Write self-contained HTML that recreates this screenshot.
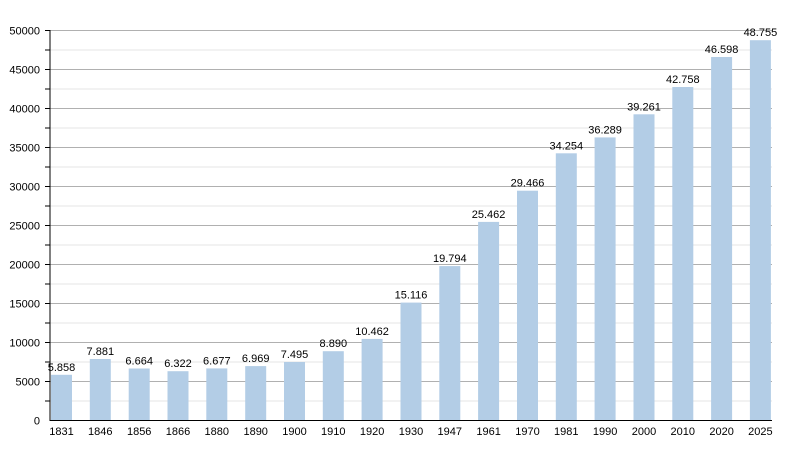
<!DOCTYPE html><html><head><style>body{margin:0;background:#fff}
.M{stroke:#b0b0b0}.m{stroke:#e4e4e4}.t{stroke:#000}
text{font-family:"Liberation Sans",sans-serif;font-size:11px;fill:#000}
.r{text-anchor:end}.c{text-anchor:middle}
rect{fill:#b3cde6}</style></head><body>
<svg width="800" height="450" xmlns="http://www.w3.org/2000/svg">
<g>
<line class="m" x1="50" x2="772" y1="401" y2="401"/>
<line class="M" x1="50" x2="772" y1="381.5" y2="381.5"/>
<line class="m" x1="50" x2="772" y1="362" y2="362"/>
<line class="M" x1="50" x2="772" y1="342.5" y2="342.5"/>
<line class="m" x1="50" x2="772" y1="323" y2="323"/>
<line class="M" x1="50" x2="772" y1="303.5" y2="303.5"/>
<line class="m" x1="50" x2="772" y1="284" y2="284"/>
<line class="M" x1="50" x2="772" y1="264.5" y2="264.5"/>
<line class="m" x1="50" x2="772" y1="245" y2="245"/>
<line class="M" x1="50" x2="772" y1="225.5" y2="225.5"/>
<line class="m" x1="50" x2="772" y1="206" y2="206"/>
<line class="M" x1="50" x2="772" y1="186.5" y2="186.5"/>
<line class="m" x1="50" x2="772" y1="167" y2="167"/>
<line class="M" x1="50" x2="772" y1="147.5" y2="147.5"/>
<line class="m" x1="50" x2="772" y1="128" y2="128"/>
<line class="M" x1="50" x2="772" y1="108.5" y2="108.5"/>
<line class="m" x1="50" x2="772" y1="89" y2="89"/>
<line class="M" x1="50" x2="772" y1="69.5" y2="69.5"/>
<line class="m" x1="50" x2="772" y1="50" y2="50"/>
<line class="M" x1="50" x2="772" y1="30.5" y2="30.5"/>
</g>
<g>
<line class="t" x1="45" x2="50" y1="401" y2="401"/>
<line class="t" x1="45" x2="50" y1="381.5" y2="381.5"/>
<line class="t" x1="45" x2="50" y1="362" y2="362"/>
<line class="t" x1="45" x2="50" y1="342.5" y2="342.5"/>
<line class="t" x1="45" x2="50" y1="323" y2="323"/>
<line class="t" x1="45" x2="50" y1="303.5" y2="303.5"/>
<line class="t" x1="45" x2="50" y1="284" y2="284"/>
<line class="t" x1="45" x2="50" y1="264.5" y2="264.5"/>
<line class="t" x1="45" x2="50" y1="245" y2="245"/>
<line class="t" x1="45" x2="50" y1="225.5" y2="225.5"/>
<line class="t" x1="45" x2="50" y1="206" y2="206"/>
<line class="t" x1="45" x2="50" y1="186.5" y2="186.5"/>
<line class="t" x1="45" x2="50" y1="167" y2="167"/>
<line class="t" x1="45" x2="50" y1="147.5" y2="147.5"/>
<line class="t" x1="45" x2="50" y1="128" y2="128"/>
<line class="t" x1="45" x2="50" y1="108.5" y2="108.5"/>
<line class="t" x1="45" x2="50" y1="89" y2="89"/>
<line class="t" x1="45" x2="50" y1="69.5" y2="69.5"/>
<line class="t" x1="45" x2="50" y1="50" y2="50"/>
<line class="t" x1="45" x2="50" y1="30.5" y2="30.5"/>
</g>
<g>
<text class="r" x="40" y="424.5">0</text>
<text class="r" x="40" y="385.5">5000</text>
<text class="r" x="40" y="346.5">10000</text>
<text class="r" x="40" y="307.5">15000</text>
<text class="r" x="40" y="268.5">20000</text>
<text class="r" x="40" y="229.5">25000</text>
<text class="r" x="40" y="190.5">30000</text>
<text class="r" x="40" y="151.5">35000</text>
<text class="r" x="40" y="112.5">40000</text>
<text class="r" x="40" y="73.5">45000</text>
<text class="r" x="40" y="34.5">50000</text>
</g>
<g>
<rect x="51" y="374.8" width="21" height="45.7"/>
<rect x="89.8" y="359" width="21" height="61.5"/>
<rect x="128.7" y="368.5" width="21" height="52"/>
<rect x="167.5" y="371.2" width="21" height="49.3"/>
<rect x="206.3" y="368.4" width="21" height="52.1"/>
<rect x="245.2" y="366.1" width="21" height="54.4"/>
<rect x="284" y="362" width="21" height="58.5"/>
<rect x="322.8" y="351.2" width="21" height="69.3"/>
<rect x="361.6" y="338.9" width="21" height="81.6"/>
<rect x="400.5" y="302.6" width="21" height="117.9"/>
<rect x="439.3" y="266.1" width="21" height="154.4"/>
<rect x="478.1" y="221.9" width="21" height="198.6"/>
<rect x="517" y="190.7" width="21" height="229.8"/>
<rect x="555.8" y="153.3" width="21" height="267.2"/>
<rect x="594.6" y="137.4" width="21" height="283.1"/>
<rect x="633.5" y="114.3" width="21" height="306.2"/>
<rect x="672.3" y="87" width="21" height="333.5"/>
<rect x="711.1" y="57" width="21" height="363.5"/>
<rect x="749.9" y="40.2" width="21" height="380.3"/>
</g>
<g>
<text class="c" x="61.5" y="370.8">5.858</text>
<text class="c" x="100.3" y="355">7.881</text>
<text class="c" x="139.2" y="364.5">6.664</text>
<text class="c" x="178" y="367.2">6.322</text>
<text class="c" x="216.8" y="364.4">6.677</text>
<text class="c" x="255.7" y="362.1">6.969</text>
<text class="c" x="294.5" y="358">7.495</text>
<text class="c" x="333.3" y="347.2">8.890</text>
<text class="c" x="372.1" y="334.9">10.462</text>
<text class="c" x="411" y="298.6">15.116</text>
<text class="c" x="449.8" y="262.1">19.794</text>
<text class="c" x="488.6" y="217.9">25.462</text>
<text class="c" x="527.5" y="186.7">29.466</text>
<text class="c" x="566.3" y="149.3">34.254</text>
<text class="c" x="605.1" y="133.4">36.289</text>
<text class="c" x="644" y="110.3">39.261</text>
<text class="c" x="682.8" y="83">42.758</text>
<text class="c" x="721.6" y="53">46.598</text>
<text class="c" x="760.4" y="36.2">48.755</text>
</g>
<g>
<text class="c" x="61.5" y="435">1831</text>
<text class="c" x="100.3" y="435">1846</text>
<text class="c" x="139.2" y="435">1856</text>
<text class="c" x="178" y="435">1866</text>
<text class="c" x="216.8" y="435">1880</text>
<text class="c" x="255.7" y="435">1890</text>
<text class="c" x="294.5" y="435">1900</text>
<text class="c" x="333.3" y="435">1910</text>
<text class="c" x="372.1" y="435">1920</text>
<text class="c" x="411" y="435">1930</text>
<text class="c" x="449.8" y="435">1947</text>
<text class="c" x="488.6" y="435">1961</text>
<text class="c" x="527.5" y="435">1970</text>
<text class="c" x="566.3" y="435">1981</text>
<text class="c" x="605.1" y="435">1990</text>
<text class="c" x="644" y="435">2000</text>
<text class="c" x="682.8" y="435">2010</text>
<text class="c" x="721.6" y="435">2020</text>
<text class="c" x="760.4" y="435">2025</text>
</g>
<line class="t" x1="50" x2="50" y1="30" y2="421"/>
<line class="t" x1="50" x2="772" y1="420.5" y2="420.5"/>
</svg></body></html>
